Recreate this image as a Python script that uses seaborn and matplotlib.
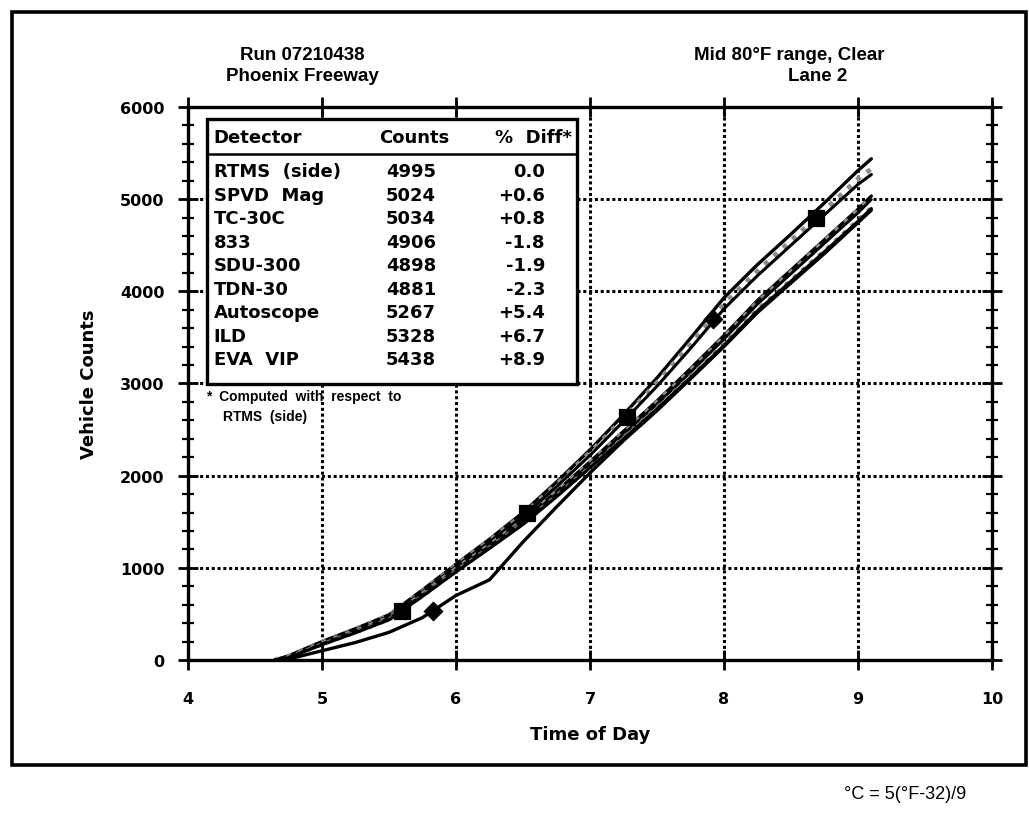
import pandas as pd
import matplotlib
matplotlib.use("Agg")
import matplotlib.pyplot as plt
import seaborn as sns
from matplotlib.patches import Rectangle
from matplotlib.ticker import MultipleLocator

sns.set_style("ticks")
plt.rcParams['font.family'] = ['DejaVu Sans']
plt.rcParams['text.color'] = 'black'
plt.rcParams['axes.labelcolor'] = 'black'
plt.rcParams['xtick.color'] = 'black'
plt.rcParams['ytick.color'] = 'black'
plt.rcParams['axes.edgecolor'] = 'black'

hours = [4.65, 4.75, 5.0, 5.25, 5.5, 5.75, 6.0, 6.25, 6.5, 6.75,
         7.0, 7.25, 7.5, 7.75, 8.0, 8.25, 8.5, 8.75, 9.0, 9.1]

eva_vip   = [0, 45, 200, 340, 490, 760, 1040, 1310, 1600, 1930, 2280, 2660, 3060, 3490, 3930, 4290, 4620, 4960, 5310, 5438]
ild       = [0, 40, 195, 335, 480, 750, 1030, 1295, 1580, 1905, 2250, 2620, 3010, 3430, 3860, 4220, 4550, 4880, 5220, 5328]
autoscope = [0, 40, 190, 330, 475, 740, 1015, 1280, 1560, 1880, 2220, 2590, 2970, 3380, 3810, 4170, 4500, 4830, 5160, 5267]
tc30c     = [0, 35, 185, 320, 460, 720, 995, 1250, 1520, 1830, 2150, 2480, 2810, 3160, 3520, 3900, 4230, 4560, 4890, 5034]
spvd      = [0, 35, 180, 315, 455, 715, 990, 1245, 1510, 1820, 2140, 2465, 2795, 3140, 3500, 3880, 4210, 4545, 4880, 5024]
rtms      = [0, 30, 175, 310, 450, 705, 980, 1235, 1500, 1805, 2125, 2450, 2775, 3120, 3480, 3860, 4190, 4520, 4850, 4995]
d833      = [0, 30, 170, 300, 440, 695, 965, 1220, 1480, 1780, 2095, 2415, 2740, 3080, 3430, 3800, 4120, 4440, 4770, 4906]
sdu300    = [0, 25, 165, 295, 435, 690, 955, 1210, 1470, 1770, 2085, 2400, 2725, 3065, 3415, 3790, 4110, 4430, 4760, 4898]
tdn30     = [0, 10, 100, 190, 300, 460, 700, 870, 1280, 1660, 2030, 2380, 2705, 3050, 3400, 3770, 4090, 4410, 4745, 4881]

# filled marker symbols riding on the curves
square_t = [5.6, 6.53, 7.28, 8.69]
square_c = [530, 1600, 2635, 4800]
diamond_t = [5.83, 7.92]
diamond_c = [530, 3700]

detectors = ['RTMS  (side)', 'SPVD  Mag', 'TC-30C', '833', 'SDU-300',
             'TDN-30', 'Autoscope', 'ILD', 'EVA  VIP']
counts = [4995, 5024, 5034, 4906, 4898, 4881, 5267, 5328, 5438]
diffs = ['0.0', '+0.6', '+0.8', '-1.8', '-1.9', '-2.3', '+5.4', '+6.7', '+8.9']

series = [
    (eva_vip, 'black', '-', 2.4),
    (ild, '#8c8c8c', ':', 3.4),
    (autoscope, 'black', '-', 2.2),
    (tc30c, 'black', '-', 2.4),
    (spvd, '#8c8c8c', ':', 3.4),
    (rtms, 'black', '-', 2.0),
    (d833, '#7a7a7a', ':', 3.0),
    (sdu300, 'black', '-', 2.2),
    (tdn30, 'black', '-', 2.4),
]

fig = plt.figure(figsize=(10.29, 8.28), dpi=100)
ax = fig.add_axes([0.1827, 0.2017, 0.7813, 0.6679])

for vals, col, ls, lw in series:
    sns.lineplot(x=hours, y=vals, color=col, linestyle=ls, linewidth=lw, ax=ax)

sns.scatterplot(x=square_t, y=square_c, marker='s', s=120, color='black',
                edgecolor='black', ax=ax, zorder=5)
sns.scatterplot(x=diamond_t, y=diamond_c, marker='D', s=90, color='black',
                edgecolor='black', ax=ax, zorder=5)

ax.set_xlim(4, 10)
ax.set_ylim(0, 6000)
ax.xaxis.set_major_locator(MultipleLocator(1))
ax.yaxis.set_major_locator(MultipleLocator(1000))
ax.yaxis.set_minor_locator(MultipleLocator(200))
ax.grid(True, which='major', color='black', linestyle=(0, (1, 0.9)), linewidth=2.2)

for s in ax.spines.values():
    s.set_linewidth(2.4)
ax.tick_params(which='major', direction='inout', length=14, width=2.0,
               top=True, right=True, labelsize=11.5)
ax.tick_params(which='minor', direction='inout', length=8, width=1.6,
               left=True, right=True, bottom=False, top=False)
ax.tick_params(axis='x', pad=15)
ax.tick_params(axis='y', pad=10)
for lab in ax.get_xticklabels() + ax.get_yticklabels():
    lab.set_fontweight('bold')

ax.set_xlabel('Time of Day', fontsize=13, fontweight='bold', labelpad=14)
ax.set_ylabel('Vehicle Counts', fontsize=13, fontweight='bold', labelpad=16)

# titles above the plot
lib = ['Liberation Sans', 'DejaVu Sans']
tt = dict(ha='center', va='center', fontsize=13.5, fontweight='bold', family=lib)
fig.text(0.294, 0.933, 'Run 07210438', **tt)
fig.text(0.294, 0.908, 'Phoenix Freeway', **tt)
fig.text(0.767, 0.933, 'Mid 80°F range, Clear', **tt)
fig.text(0.795, 0.908, 'Lane 2', **tt)

# results table inside the axes
ax.add_patch(Rectangle((0.024, 0.499), 0.46, 0.479, transform=ax.transAxes,
                       facecolor='white', edgecolor='black', linewidth=2.4, zorder=6))
ax.plot([0.024, 0.484], [0.915, 0.915], transform=ax.transAxes,
        color='black', linewidth=1.8, zorder=7)
tk = dict(transform=ax.transAxes, fontsize=13, fontweight='bold', va='center', zorder=8)
ax.text(0.032, 0.946, 'Detector', ha='left', **tk)
ax.text(0.282, 0.946, 'Counts', ha='center', **tk)
ax.text(0.478, 0.946, '%  Diff*', ha='right', **tk)
for i, (d, c, p) in enumerate(zip(detectors, counts, diffs)):
    yy = 0.884 - i * 0.0425
    ax.text(0.032, yy, d, ha='left', **tk)
    ax.text(0.246, yy, str(c), ha='left', **tk)
    ax.text(0.444, yy, p, ha='right', **tk)
ax.text(0.022, 0.477, '*  Computed  with  respect  to', transform=ax.transAxes,
        fontsize=10, fontweight='bold', va='center', ha='left', zorder=8, family=lib)
ax.text(0.043, 0.442, 'RTMS  (side)', transform=ax.transAxes,
        fontsize=10, fontweight='bold', va='center', ha='left', zorder=8, family=lib)

# outer frame of the figure panel
fig.patches.append(Rectangle((0.0117, 0.075), 0.9853, 0.909, transform=fig.transFigure,
                             fill=False, edgecolor='black', linewidth=2.6))
fig.text(0.88, 0.04, '°C = 5(°F-32)/9', ha='center', va='center', fontsize=13,
         family=['Liberation Sans Narrow', 'Liberation Sans', 'DejaVu Sans'])

fig.savefig('out.png', dpi=100)
